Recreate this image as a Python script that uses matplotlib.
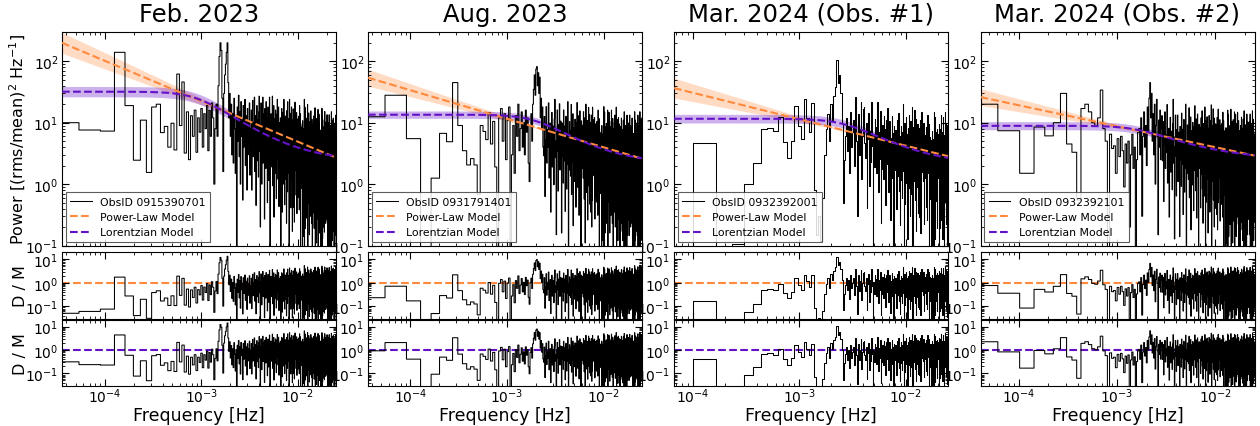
import numpy as np
import matplotlib
matplotlib.use("Agg")
import matplotlib.pyplot as plt

titles = ["Feb. 2023", "Aug. 2023", "Mar. 2024 (Obs. #1)", "Mar. 2024 (Obs. #2)"]
obsids = ["0915390701", "0931791401", "0932392001", "0932392101"]
freq_step = [3.6e-5, 3.65e-5, 6.67e-5, 4.1e-5]   # frequency resolution (Hz)

power_feb = [
    10, 7.6, 7.3, 140, 19, 2.45, 11, 1.55, 18, 20, 6.9, 8.7,
    4.0, 9.8, 3.6, 62, 9, 46, 3.2, 15, 2.5, 13, 6, 16,
    3.3, 12, 7, 17, 4, 14, 8, 19, 3.5, 16, 6, 21,
    12, 1.0, 8, 20, 6, 40, 120, 200, 150, 25, 1.6, 30,
    60, 90, 140, 200, 45, 12, 30, 6, 20, 3, 14, 2.2,
    25, 8, 1.5, 12, 0.07, 18, 5, 28, 2.8, 15, 1.0, 22,
    6, 11, 0.55, 19, 4, 9, 24, 2, 13, 7, 0.8, 17,
    5, 10, 3, 21, 1.4, 8,
    3.8, 16, 0.8, 6.8, 23, 2.8, 9.9, 5.1, 26, 1.6, 8.6, 13, 0.45, 5.7, 19, 2.4, 11, 7.5, 1.3, 15,
    27, 3.4, 6.4, 0.2, 9.2, 21, 4.4, 1.0, 12, 5.9, 26, 2.2, 7.9, 14, 3.2, 0.27, 17, 4.9, 10, 1.8,
    22, 5.7, 3.3, 12, 0.5, 6.7, 18, 4.3, 1.15, 9.2, 2.9, 26, 5.3, 0.09, 7.6, 2.4, 14, 3.7, 10, 1.9,
    6.1, 27, 0.94, 5.0, 8.6, 3.2, 19, 0.29, 7.1, 2.2, 11.5, 4.2, 1.5, 16, 5.8, 9.9, 0.58, 3.6, 13.7, 2.6,
    24, 4.6, 8.1, 1.2, 6.5, 18, 3.4, 0.43, 9.4, 5.5,
    10, 5.0, 2.3, 12, 5.8, 0.09, 3.2, 9.0, 1.7, 17, 4.5, 7.5, 0.35, 2.7, 14.5, 5.2, 1.0, 6.5, 3.7, 24,
    2.1, 11, 2.9, 0.46, 8.0, 4.7, 12.8, 1.2, 3.4, 9.3, 1.74, 5.7, 0.23, 15.7, 2.55, 7.0, 4.0, 0.75, 22, 4.9,
    1.5, 8.4, 3.0, 11.6, 1.9, 6.1, 0.07, 4.2, 24, 2.3, 7.4, 0.93, 3.5, 14.2, 5.4, 0.41, 9.9, 2.7, 4.6, 18,
    1.16, 6.7, 3.1, 11, 0.17, 2.0, 8.8, 5.1, 1.4, 16.8,
    2.0, 0.42, 12.2, 5.2, 16, 4.5, 0.24, 9.9, 5.9, 0.66, 21.6, 3.3, 4.8, 2.3, 6.3, 13.6, 4.1, 1.65, 8.9, 5.4,
    14.6, 2.2, 0.33, 11.5, 0.75, 1.9, 3.4, 5.0, 9.4, 6.8, 4.0, 0.61, 5.6, 12.7, 4.6, 7.5, 0.99, 3.8, 0.38, 8.9,
    19, 5.3, 4.2, 2.2, 6.1, 14, 7.3, 0.07, 9.6, 4.0,
    8.5, 3.5, 1.46, 2.7, 0.85, 6.6, 3.0, 1.27, 3.9, 7.8, 1.8, 0.1, 10.8, 0.52, 3.1, 1.13, 7.1, 0.14, 2.5, 0.94,
    3.7, 8.0, 4.4, 2.8, 6.0, 24, 0.056, 1.55, 2.4, 1.2, 17.9, 3.2, 2.1, 0.19, 1.4, 2.7, 10.3, 6.5, 2.35, 1.7,
    3.0, 0.8, 11.8, 0.28, 3.6, 1.36, 2.6, 4.7, 1.8, 8.2,
    1.5, 19.8, 2.8, 0.046, 4.0, 1.25, 7.6, 2.0, 5.5, 1.0, 3.2, 14.4, 0.49, 2.6, 4.6, 1.7, 10.3, 0.15, 3.7, 1.14,
    6.1, 2.2, 0.8, 8.4, 3.1, 5.2, 0.3, 1.9, 7.2, 1.37, 15.6, 2.4, 4.3, 0.65, 3.4, 9.5, 1.8, 0.23, 4.9, 2.9,
    11.4, 1.1, 5.9, 2.1, 0.057, 3.8, 7.8, 1.5, 3.3, 6.7,
    1.6, 6.8, 0.34, 2.85, 9.9, 1.18, 4.2, 2.2, 12.9, 0.68, 3.6, 5.3, 0.19, 2.4, 8.0, 1.03, 4.75, 3.15, 0.53, 6.3,
    17.5, 1.44, 2.7, 0.084, 3.9, 8.7, 1.86, 0.42, 5.1, 2.5, 11, 0.91, 3.3, 5.8, 1.33, 0.11, 7.2, 2.05, 4.4, 0.76,
    11.8, 3.0, 1.75, 6.5, 0.27, 3.5, 9.3, 2.3, 0.61, 4.9, 1.52, 16.5, 2.6, 0.05, 3.7, 1.3, 7.1, 2.1, 5.2, 1.1,
    3.4, 13.8, 0.52, 2.4, 4.9, 1.6, 9.8, 0.16, 3.5, 1.2,
    5.9, 2.5, 1.0, 1.9, 0.6, 4.6, 2.1, 0.9, 2.7, 5.4, 1.25, 0.073, 7.6, 0.36, 2.2, 0.8, 5.0, 0.1, 1.8, 0.66,
    2.6, 5.6, 3.1, 2.0, 4.2, 17.2, 0.04, 1.1, 1.7, 0.86, 12.5, 2.3, 1.45, 0.13, 1.0, 1.9, 7.3, 4.6, 1.65, 1.2,
    2.1, 0.56, 8.3, 0.2, 2.5, 0.96, 1.8, 3.3, 1.3, 5.8,
    1.4, 0.3, 8.6, 3.6, 11.2, 3.2, 0.165, 6.9, 4.1, 0.46, 15.2, 2.3, 3.4, 1.6, 4.4, 9.6, 2.9, 1.16, 6.3, 3.8,
    10.2, 1.5, 0.23, 8.1, 0.53, 1.3, 2.4, 3.5, 6.6, 4.8, 2.8, 0.43, 4.0, 8.9, 3.2, 5.3, 0.69, 2.7, 0.26, 6.3,
    13.5, 3.7, 3.0, 1.55, 4.3, 9.9, 5.1, 0.05, 6.8, 2.8,
    5.8, 2.8, 1.3, 6.8, 3.3, 0.05, 1.8, 5.1, 0.96, 9.9, 2.5, 4.3, 0.2, 1.55, 8.3, 3.0, 0.56, 3.7, 2.1, 13.5,
    13.3, 1.1, 2.06, 0.064, 2.96, 6.7, 1.42, 0.32, 3.86, 1.9, 8.4, 0.7, 2.55, 4.4, 1.0, 0.087, 5.5, 1.57, 3.3, 0.58,
    9.0, 2.3, 1.33, 4.9, 0.2, 2.7, 7.1, 1.74, 0.46, 3.7, 1.16, 15.1, 2.1, 0.035, 3.1, 0.96, 5.8, 1.5, 4.2, 0.75,
    2.5, 11, 0.38, 2.0, 3.5, 1.28, 7.8, 0.12, 2.84, 0.87, 4.6, 1.7, 0.61, 6.4, 2.35, 4.0, 0.23, 1.45, 5.5, 1.04,
    11.9, 1.86, 3.25, 0.49, 2.6, 7.25, 1.36, 0.17, 3.8, 2.2, 8.7, 0.84, 4.5, 1.6, 0.044, 2.9, 5.9, 1.13, 2.5, 5.1,
    1.2, 5.2, 0.26, 2.2, 7.5, 0.9, 3.2, 1.65, 9.9, 0.52, 2.8, 4.1, 0.145, 1.83, 6.1, 0.78, 3.6, 2.4, 0.41, 4.8,
    13.3, 1.1, 2.06, 0.064,
]

power_aug = [
    12.5, 28, 5.5, 0.04, 1.25, 6.7, 4.9, 45, 9.0, 3.5, 2.05, 2.6, 2.05, 0.68, 9.0, 7.2, 5.3, 14.5, 4.5, 10.5,
    1.9, 0.03, 12, 17, 5, 14, 2.5, 11, 18, 0.04, 3, 9, 1.5, 13, 6, 20, 3.5, 8, 15, 4,
    10, 3, 16, 7, 12, 2.2, 1.1, 9, 14, 5,
    20, 35, 60, 28, 75, 82, 40, 65, 30, 55, 12, 25, 8, 18, 4,
    2.9, 12.6, 0.63, 5.25, 18.2, 2.2, 7.7, 4.0, 21, 1.26, 6.7, 9.8, 0.35, 4.4, 14.7, 1.9, 8.75, 5.8, 0.98, 11.5,
    24, 2.7, 5.0, 0.15, 7.1, 16.1, 3.4, 0.77, 9.3, 4.6, 20.3, 1.7, 6.2, 10.6, 2.45,
    0.16, 9.9, 2.8, 6.0, 1.04, 16.1, 4.1, 2.4, 8.8, 0.36, 4.8, 12.7, 3.1, 0.83, 6.7, 2.1, 22, 3.8, 0.062, 5.5,
    1.7, 10.4, 2.7, 7.5, 1.35, 4.4, 19.8, 0.68, 3.6, 6.2, 2.3, 14, 0.21, 5.1, 1.56, 8.3, 3.0, 1.1, 11.4, 4.2,
    7.2, 0.42, 2.6, 9.9, 1.9, 21.3, 3.3, 5.8, 0.88, 4.7, 13, 2.4, 0.31, 6.8, 4.0, 15.6, 1.5, 8.1, 2.9, 0.078,
    5.2, 10.7, 2.0, 4.5, 9.1,
    1.8, 7.9, 4.6, 1.25, 15.1, 3.4, 6.9, 0.57, 2.5, 12, 5.3, 0.11, 3.7, 2.0, 20, 8.6, 0.73, 4.3, 6.5, 1.4,
    10.9, 3.3, 0.26, 7.3, 5.0, 0.94, 17.7, 3.0, 5.7, 1.6, 13.5, 3.9, 0.47, 9.4, 2.2,
    1.64, 0.35, 10.1, 4.3, 13.3, 3.7, 0.2, 8.2, 4.9, 0.55, 17.9, 2.8, 4.0, 1.9, 5.2, 11.3, 3.4, 1.37, 7.4, 4.5,
    12.1, 1.8, 0.27, 9.6, 0.62, 1.56, 2.85, 4.1, 7.8, 5.7, 3.3, 0.51, 4.7, 10.5, 3.8, 6.2, 0.82, 3.2, 0.31, 7.4,
    16, 4.4, 3.5, 1.83, 5.1, 11.7, 6.0, 0.059, 8.0, 3.35,
    7.0, 2.9, 1.2, 2.2, 0.7, 5.5, 2.5, 1.05, 3.2, 6.4, 1.48, 0.086, 9.0, 0.43, 2.6, 0.94, 5.9, 0.12, 2.1, 0.78,
    3.1, 6.6, 3.6, 2.3, 5.0, 18.3, 0.047, 1.29, 2.0, 1.0, 14.8, 2.7, 1.7, 0.16, 1.17, 2.3, 8.6, 5.4, 1.95, 1.4,
    2.5, 0.66, 9.75, 0.23, 3.0, 1.13, 2.1, 3.9, 1.52, 6.8,
    1.56, 16, 2.85, 0.047, 4.1, 1.29, 7.8, 2.0, 5.7, 1.0, 3.3, 14.8, 0.51, 2.7, 4.7, 1.7, 10.5, 0.16, 3.8, 1.17,
    6.2, 2.3, 0.82, 8.6, 3.2, 5.4, 0.31, 1.95, 7.4, 1.4, 16, 2.5, 4.4, 0.66, 3.5, 9.75, 1.83, 0.23, 5.1, 3.0,
    11.7, 1.13, 6.0, 2.1, 0.059, 3.9, 8.0, 1.52, 3.35, 6.8,
    1.64, 7.0, 0.35, 2.9, 10.1, 1.2, 4.3, 2.2, 13.3, 0.7, 3.7, 5.5, 0.2, 2.5, 8.2, 1.05, 4.9, 3.2, 0.55, 6.4,
    17.9, 1.48, 2.8, 0.086, 4.0, 9.0, 1.9, 0.43, 5.2, 2.6, 11.3, 0.94, 3.4, 5.9, 1.37, 0.12, 7.4, 2.1, 4.5, 0.78,
    12.1, 3.1, 1.8, 6.6, 0.27, 3.6, 9.6, 2.3, 0.62, 5.0,
    5.1, 2.5, 1.13, 5.9, 2.9, 0.044, 1.6, 4.5, 0.84, 8.7, 2.2, 3.8, 0.17, 1.36, 7.25, 2.6, 0.49, 3.25, 1.86, 11.9,
    1.04, 5.5, 1.45, 0.23, 4.0, 2.35, 6.4, 0.61, 1.7, 4.6, 0.87, 2.84, 0.12, 7.8, 1.28, 3.5, 2.0, 0.38, 11, 2.5,
    0.75, 4.2, 1.5, 5.8, 0.96, 3.1, 0.035, 2.1, 15.1, 1.16, 3.7, 0.46, 1.74, 7.1, 2.7, 0.2, 4.9, 1.33, 2.3, 9.0,
    0.58, 3.3, 1.57, 5.5, 0.087, 1.0, 4.4, 2.55, 0.7, 8.4, 1.9, 3.86, 0.32, 1.42, 6.7, 2.96, 0.064, 2.06, 1.1, 13.3,
    4.8, 0.41, 2.4, 3.6, 0.78, 6.1, 1.83, 0.145, 4.1, 2.8, 0.52, 9.9, 1.65, 3.2, 0.9, 7.5, 2.2, 0.26, 5.2, 1.2,
    1.2, 0.26, 7.5, 3.2, 9.9, 2.8, 0.145, 6.1, 3.6, 0.41, 13.3, 2.06, 2.96, 1.42, 3.86, 8.4, 2.55, 1.0, 5.5, 3.3,
    9.0, 1.33, 0.2, 7.1, 0.46, 1.16, 2.1, 3.1, 5.8, 4.2, 2.5, 0.38, 3.5, 7.8, 2.84, 4.6, 0.61, 2.35, 0.23, 5.5,
    11.9, 3.25, 2.6, 1.36, 3.8, 8.7, 4.5, 0.044, 5.9, 2.5,
    5.2, 2.2, 0.9, 1.65, 0.52, 4.1, 1.83, 0.78, 2.4, 4.8, 1.1, 0.064, 6.7, 0.32, 1.9, 0.7, 4.4, 0.087, 1.57, 0.58,
    2.3, 4.9, 2.7, 1.74, 3.7, 15.1, 0.035, 0.96, 1.5, 0.75, 11, 2.0, 1.28, 0.12, 0.87, 1.7, 6.4, 4.0, 1.45, 1.04,
    1.86, 0.49, 7.25, 0.17, 2.2, 0.84, 1.6, 2.9, 1.13, 5.1,
    1.2, 5.2, 0.26, 2.2, 7.5, 0.9, 3.2, 1.65, 9.9, 0.52, 2.8, 4.1, 0.145, 1.83, 6.1, 0.78, 3.6, 2.4, 0.41, 4.8,
    13.3, 1.1, 2.06, 0.064, 2.96, 6.7, 1.42, 0.32, 3.86, 1.9, 8.4, 0.7, 2.55, 4.4, 1.0, 0.087, 5.5, 1.57, 3.3, 0.58,
    9.0, 2.3, 1.33, 4.9, 0.2, 2.7, 7.1, 1.74, 0.46, 3.7, 1.16, 15.1, 2.1, 0.035, 3.1, 0.96, 5.8, 1.5, 4.2, 0.75,
    2.5, 11, 0.38, 2.0, 3.5, 1.28, 7.8, 0.12, 2.84, 0.87, 4.6, 1.7, 0.61, 6.4, 2.35, 4.0, 0.23, 1.45, 5.5, 1.04,
    11.9, 1.86, 3.25, 0.49, 2.6,
]

power_mar1 = [
    0.02, 4.6, 0.02, 0.105, 1.0, 2.2, 8.0, 8.3, 7.2, 12.5, 4.8, 2.7,
    5.0, 19, 9, 5.5, 24, 12, 7, 21, 0.8, 0.15, 0.3, 0.12,
    0.6, 3, 8, 14, 5, 20, 11, 27, 38, 104, 45, 60,
    30, 10, 0.5, 2.5, 6, 12, 3.5, 9, 1.5, 15, 4, 7,
    11, 2, 26, 5, 0.3, 14, 3, 8, 22, 1.2, 6, 17,
    18, 4.6, 2.7, 9.9, 0.41, 5.4, 14.2, 3.5, 0.93, 7.4, 2.3, 22, 4.2, 0.07, 6.1, 1.9, 11.6, 3.0, 8.4, 1.5,
    4.9, 22, 0.75, 4.0, 7.0, 2.55, 15.7, 0.23, 5.7, 1.74, 9.3, 3.4, 1.2, 12.8, 4.7, 8.0, 0.46, 2.9, 11, 2.1,
    17.6, 2.75, 4.8, 0.73, 3.9, 10.8, 2.0, 0.26, 5.6, 3.3, 12.9, 1.25, 6.7, 2.4, 0.065, 4.3, 8.8, 1.7, 3.7, 7.5,
    1.8, 7.7, 0.39, 3.2, 11.2, 1.33, 4.7, 2.45, 14.6, 0.77, 4.1, 6.0, 0.215, 2.7, 9.0, 1.16, 5.4, 3.6, 0.6, 7.1,
    19.8, 1.63, 3.05, 0.095, 4.4, 9.9, 2.1, 0.47, 5.7, 2.8, 12.5, 1.03, 3.8, 6.5, 1.5, 0.13, 8.2, 2.3, 4.9, 0.86,
    13.3, 3.4, 2.0, 7.3, 0.3, 4.0, 10.5, 2.6, 0.69, 5.5, 1.72, 18, 3.1, 0.052, 4.6, 1.42, 8.6, 2.2, 6.2, 1.12,
    3.65, 16.3, 0.56, 3.0, 5.2, 1.9, 11.6, 0.17, 4.2, 1.29, 6.9, 2.5, 0.9, 9.5, 3.5, 5.9, 0.34, 2.15, 8.2, 1.55,
    1.34, 0.29, 8.3, 3.5, 10.9, 3.1, 0.16, 6.7, 4.0, 0.45, 14.7, 2.3, 3.3, 1.57, 4.3, 9.3, 2.8, 1.12, 6.1, 3.7,
    9.9, 1.47, 0.22, 7.8, 0.51, 1.28, 2.3, 3.4, 6.4, 4.6, 2.7, 0.42, 3.8, 8.6, 3.1, 5.1, 0.67, 2.6, 0.26, 6.1,
    13.1, 3.6, 2.9, 1.5, 4.2, 9.6, 5.0, 0.048, 6.6, 2.75,
    5.8, 2.4, 1.0, 1.8, 0.58, 4.5, 2.0, 0.86, 2.65, 5.3, 1.2, 0.07, 7.4, 0.35, 2.1, 0.77, 4.9, 0.096, 1.73, 0.64,
    2.5, 5.4, 3.0, 1.9, 4.1, 15, 0.038, 1.06, 1.66, 0.83, 12.2, 2.2, 1.4, 0.13, 0.96, 1.86, 7.0, 4.4, 1.6, 1.15,
    2.05, 0.54, 8.0, 0.19, 2.5, 0.93, 1.76, 3.2, 1.25, 5.6,
    5.6, 2.75, 1.25, 6.6, 3.2, 0.048, 1.76, 5.0, 0.93, 9.6, 2.5, 4.2, 0.19, 1.5, 8.0, 2.9, 0.54, 3.6, 2.05, 13.1,
    1.15, 6.1, 1.6, 0.26, 4.4, 2.6, 7.0, 0.67, 1.86, 5.1, 0.96, 3.1, 0.13, 8.6, 1.4, 3.8, 2.2, 0.42, 12.2, 2.7,
    0.83, 4.6, 1.66, 6.4, 1.06, 3.4, 0.038, 2.3, 15, 1.28, 4.1, 0.51, 1.9, 7.8, 3.0, 0.22, 5.4, 1.47, 2.5, 9.9,
    0.64, 3.7, 1.73, 6.1, 0.096, 1.12, 4.9, 2.8, 0.77, 9.3, 2.1, 4.3, 0.35, 1.57, 7.4,
]

power_mar2 = [
    20, 7.4, 1.5, 8.5, 6.1, 10, 30, 4.5, 3.3, 0.55,
    17, 20, 15, 10, 9, 12, 34, 8, 5, 0.02,
    6.5, 3.8, 4.2, 1.5, 5.5, 2.8, 6, 3.5, 0.9, 4.5, 2.2, 5, 0.2, 3, 6.5, 1.8, 4, 0.04, 2.5, 7,
    8, 3, 12, 0.3, 6, 15, 4, 9, 2, 18, 7, 25, 45, 12, 30, 5, 14, 3, 20, 1.0,
    9, 24, 6, 0.15, 11, 4, 16, 2.5, 8, 13,
    2.4, 10.4, 0.52, 4.35, 15, 1.8, 6.4, 3.3, 19.7, 1.04, 5.6, 8.1, 0.29, 3.65, 12.2, 1.57, 7.25, 4.8, 0.81, 9.6,
    24, 2.2, 4.1, 0.128, 5.9, 13.3, 2.85, 0.64, 7.7, 3.8,
    13.3, 1.1, 4.0, 7.0, 1.6, 0.14, 8.7, 2.5, 5.3, 0.92, 14.3, 3.6, 2.1, 7.8, 0.32, 4.3, 11.3, 2.8, 0.74, 5.9,
    1.84, 20, 3.4, 0.055, 4.9, 1.5, 9.2, 2.4, 6.7, 1.2, 3.9, 17.5, 0.6, 3.2, 5.5, 2.0, 12.4, 0.18, 4.5, 1.38,
    7.4, 2.7, 0.97, 10.1, 3.7, 6.3, 0.37, 2.3, 8.7, 1.66, 18.9, 2.9, 5.2, 0.78, 4.1, 11.5, 2.2, 0.28, 6.0, 3.5,
    13.8, 1.33, 7.1, 2.5, 0.069, 4.6, 9.4, 1.8, 4.0, 8.0,
    1.9, 8.3, 0.41, 3.45, 12, 1.43, 5.1, 2.6, 15.6, 0.83, 4.4, 6.4, 0.23, 2.9, 9.7, 1.24, 5.75, 3.8, 0.64, 7.6,
    18, 1.75, 3.3, 0.1, 4.7, 10.6, 2.25, 0.51, 6.1, 3.0, 12.5, 1.2, 3.7, 6.6, 1.5, 0.16, 8.1, 2.3, 5.0, 0.85,
    13.1, 3.9, 1.9, 7.3, 0.35, 4.1, 10.8, 2.6, 0.69, 5.6, 1.7, 19.5, 3.1, 0.06, 4.6, 1.4, 8.9, 2.2, 6.3, 1.1,
    3.6, 16.8, 0.55, 3.0, 5.1, 1.9, 11.9, 0.2, 4.3, 1.3, 6.9, 2.6, 0.9, 9.6, 3.4, 5.9, 0.4, 2.1, 8.3, 1.6,
    1.5, 0.32, 9.4, 4.0, 12.2, 3.5, 0.18, 7.6, 4.5, 0.5, 16.6, 2.6, 3.7, 1.76, 4.8, 10.4, 3.2, 1.26, 6.8, 4.1,
    11.2, 1.66, 0.25, 8.8, 0.58, 1.44, 2.6, 3.8, 7.2, 5.2, 3.1, 0.47, 4.3, 9.7, 3.5, 5.8, 0.76, 2.9, 0.29, 6.8,
    14.8, 4.0, 3.2, 1.7, 4.7, 10.8, 5.6, 0.054, 7.4, 3.1,
    6.5, 2.7, 1.1, 2.05, 0.65, 5.0, 2.3, 0.97, 3.0, 5.9, 1.37, 0.079, 8.3, 0.4, 2.4, 0.86, 5.5, 0.11, 1.94, 0.72,
    2.8, 6.1, 3.35, 2.2, 4.6, 16, 0.043, 1.2, 1.87, 0.94, 13.7, 2.5, 1.6, 0.14, 1.08, 2.1, 7.9, 5.0, 1.8, 1.3,
    2.3, 0.61, 9.0, 0.22, 2.8, 1.04, 2.0, 3.6, 1.4, 6.3,
    16.6, 1.37, 2.55, 0.079, 3.7, 8.3, 1.76, 0.4, 4.8, 2.4, 10.4, 0.86, 3.2, 5.5, 1.26, 0.11, 6.8, 1.94, 4.1, 0.72,
    11.2, 2.8, 1.66, 6.1, 0.25, 3.35, 8.8, 2.2, 0.58, 4.6, 1.44, 15, 2.6, 0.043, 3.8, 1.2, 7.2, 1.87, 5.2, 0.94,
    3.1, 13.7, 0.47, 2.5, 4.3, 1.6, 9.7, 0.14, 3.5, 1.08, 5.8, 2.1, 0.76, 7.9, 2.9, 5.0, 0.29, 1.8, 6.8, 1.3,
    14.8, 2.3, 4.0, 0.61, 3.2, 9.0, 1.7, 0.22, 4.7, 2.8, 10.8, 1.04, 5.6, 2.0, 0.054, 3.6, 7.4, 1.4, 3.1, 6.3,
    5.25, 2.6, 1.17, 6.15, 3.0, 0.045, 1.65, 4.65, 0.87, 9.0, 2.3, 3.9, 0.18, 1.4, 7.5, 2.7, 0.51, 3.4, 1.9, 12.3,
    1.08, 5.7, 1.5, 0.24, 4.1, 2.4, 6.6, 0.63, 1.74, 4.8, 0.9, 2.9, 0.12, 8.1, 1.3, 3.6, 2.1, 0.39, 11.4, 2.55,
    0.78, 4.35, 1.56, 6.0, 1.0, 3.2, 0.036, 2.2, 15.6, 1.2, 3.8, 0.48, 1.8, 7.35, 2.8, 0.21, 5.1, 1.38, 2.4, 9.3,
    0.6, 3.45, 1.6, 5.7, 0.09, 1.05, 4.6, 2.6, 0.72, 8.7, 2.0, 4.0, 0.33, 1.47, 6.9, 3.06, 0.066, 2.1, 1.14, 13.8,
    4.95, 0.42, 2.5, 3.75, 0.81, 6.3, 1.9, 0.15, 4.2, 2.9, 0.54, 10.2, 1.7, 3.3, 0.93, 7.8, 2.25, 0.27, 5.4, 1.26,
    1.26, 5.4, 0.27, 2.25, 7.8, 0.93, 3.3, 1.7, 10.2, 0.54, 2.9, 4.2, 0.15, 1.9, 6.3, 0.81, 3.75, 2.5, 0.42, 4.95,
    13.8, 1.14, 2.1, 0.066, 3.06, 6.9, 1.47, 0.33, 4.0, 2.0, 8.7, 0.72, 2.6, 4.6, 1.05, 0.09, 5.7, 1.6, 3.45, 0.6,
    9.3, 2.4, 1.38, 5.1, 0.21, 2.8, 7.35, 1.8, 0.48, 3.8, 1.2, 15.6, 2.2, 0.036, 3.2, 1.0, 6.0, 1.56, 4.35, 0.78,
    2.55, 11.4, 0.39, 2.1, 3.6, 1.3, 8.1, 0.12, 2.9, 0.9, 4.8, 1.74, 0.63, 6.6, 2.4, 4.1, 0.24, 1.5, 5.7, 1.08,
]

powers = [power_feb, power_aug, power_mar1, power_mar2]

# Power-law model: normalisation at 1 mHz, index, band pivot and spread (dex/decade)
pl_norm = [22.4, 11.6, 11.4, 8.76]
pl_index = [0.658, 0.465, 0.431, 0.342]
pl_pivot = [3e-3, 2e-3, 2e-3, 1.5e-3]
pl_spread = [0.08, 0.07, 0.10, 0.077]

# Lorentzian model: amplitude, break frequency, high-f slope, constant, band (dex)
lor_amp = [29.7, 11.4, 9.6, 6.5]
lor_break = [9e-4, 1.95e-3, 2.74e-3, 1.6e-3]
lor_slope = [1.2, 1.2, 1.2, 0.9]
lor_const = [2.3, 2.1, 2.0, 2.4]
lor_spread = [0.09, 0.07, 0.085, 0.09]

C_PL = "#ff8a3d"
C_LOR = "#6412c8"


def powerlaw(f, norm, index):
    return norm * (f / 1e-3) ** (-index)


def lorentz_model(f, amp, fb, slope, const):
    return amp / (1.0 + (f / fb) ** 3) ** (slope / 3.0) + const


W, H = 1260, 427
fig = plt.figure(figsize=(W / 100, H / 100), dpi=100)
lefts = [62, 368, 674, 980.5]
width = 274
rows = [(33, 246.5), (253.3, 319.5), (320.5, 386.7)]


def style(ax):
    ax.set_xscale("log")
    ax.set_yscale("log")
    ax.tick_params(which="both", direction="in", top=True, right=True, labelsize=10, pad=2.5)
    ax.tick_params(axis="x", which="both", pad=0.8)
    ax.tick_params(which="major", length=5, width=0.8)
    ax.tick_params(which="minor", length=2.5, width=0.6)


for i in range(4):
    axs = [fig.add_axes([lefts[i] / W, 1 - yb / H, width / W, (yb - yt) / H]) for (yt, yb) in rows]
    p = np.array(powers[i], dtype=float)
    f = freq_step[i] * np.arange(1, len(p) + 1)
    pl = powerlaw(f, pl_norm[i], pl_index[i])
    lor = lorentz_model(f, lor_amp[i], lor_break[i], lor_slope[i], lor_const[i])
    w = pl_spread[i] * np.abs(np.log10(f / pl_pivot[i])) + 0.015
    lor_hi = lorentz_model(f, lor_amp[i] * 10 ** lor_spread[i], lor_break[i], lor_slope[i], lor_const[i])
    lor_lo = lorentz_model(f, lor_amp[i] / 10 ** lor_spread[i], lor_break[i], lor_slope[i], lor_const[i])

    ax = axs[0]
    style(ax)
    ax.fill_between(f, pl / 10 ** w, pl * 10 ** w, color=C_PL, alpha=0.3, lw=0, zorder=1)
    ax.fill_between(f, lor_lo, lor_hi, color=C_LOR, alpha=0.33, lw=0, zorder=1)
    ax.step(f, p, where="mid", color="k", lw=0.75, zorder=2, label=f"ObsID {obsids[i]}")
    ax.plot(f, pl, color=C_PL, ls="--", lw=1.5, zorder=3, label="Power-Law Model")
    ax.plot(f, lor, color=C_LOR, ls="--", lw=1.5, zorder=3, label="Lorentzian Model")
    ax.set_ylim(0.1, 300)
    ax.set_xlim(f[0], f[-1])
    ax.tick_params(labelbottom=False)
    ax.set_title(titles[i], fontsize=17.5, pad=8)
    leg = ax.legend(loc="lower left", fontsize=7.8, fancybox=False, edgecolor="0.25",
                    framealpha=0.85, borderaxespad=0.35)
    leg.get_frame().set_linewidth(0.8)
    if i == 0:
        ax.set_ylabel("Power [(rms/mean)$^2$ Hz$^{-1}$]", fontsize=11.5)
        ax.yaxis.set_label_coords(-0.125, 0.5)

    for j, (model, col) in enumerate([(pl, C_PL), (lor, C_LOR)]):
        ax = axs[j + 1]
        style(ax)
        ax.axhline(1.0, color=col, ls="--", lw=1.5, zorder=1)
        ax.step(f, p / model, where="mid", color="k", lw=0.75, zorder=2)
        ax.set_ylim(0.03, 20)
        ax.set_xlim(f[0], f[-1])
        if i == 0:
            ax.set_ylabel("D / M", fontsize=11.5)
            ax.yaxis.set_label_coords(-0.125, 0.5)
        if j == 0:
            ax.tick_params(labelbottom=False)
        else:
            ax.set_xlabel("Frequency [Hz]", fontsize=12.5, labelpad=0.5)

fig.savefig("out.png", dpi=100)
